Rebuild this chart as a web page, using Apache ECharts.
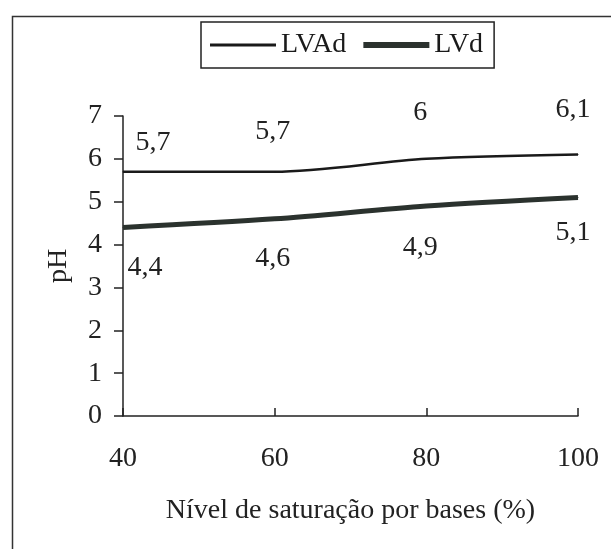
<!DOCTYPE html>
<html>
<head>
<meta charset="utf-8">
<script src="https://cdn.jsdelivr.net/npm/echarts@6/dist/echarts.min.js"></script>
<style>html,body{margin:0;padding:0;background:#fff}#c{width:611px;height:549px}</style>
</head>
<body>
<div id="c"></div>
<script>
const xValues = [40, 60, 80, 100];
const lvadValues = [5.7, 5.7, 6, 6.1];
const lvdValues = [4.4, 4.6, 4.9, 5.1];
const lvadLabels = ['5,7', '5,7', '6', '6,1'];
const lvdLabels = ['4,4', '4,6', '4,9', '5,1'];
const lvadOffsets = [[30, -29], [-2, -40], [-6, -46], [-5, -45]];
const lvdOffsets = [[22, 40], [-2, 40], [-6, 42], [-5, 35]];

const FONT = 'Liberation Serif';
const FS = 28;
const chart = echarts.init(document.getElementById('c'));

function buildData(vals, labels, offsets) {
  return vals.map((v, i) => ({
    value: [xValues[i], v],
    label: { show: true, formatter: labels[i], position: 'inside', offset: offsets[i] }
  }));
}

chart.setOption({
  animation: false,
  backgroundColor: '#fff',
  textStyle: { fontFamily: FONT },
  graphic: [{
    type: 'rect', left: 10, top: 14, silent: true,
    shape: { width: 700, height: 600 },
    style: { fill: 'none', stroke: '#333', lineWidth: 1.5 }
  }],
  legend: {
    left: 201, top: 22,
    borderColor: '#222', borderWidth: 1.5,
    padding: [9, 11, 9, 9],
    itemWidth: 66, itemHeight: 14, itemGap: 17,
    textStyle: { fontFamily: FONT, fontSize: FS, color: '#1a1a1a' },
    data: [
      { name: 'LVAd', icon: 'path://M0,0H66V3H0Z' },
      { name: 'LVd', icon: 'path://M0,0H66V6H0Z' }
    ]
  },
  grid: { left: 123, right: 33, top: 116, bottom: 133 },
  xAxis: {
    type: 'value', min: 40, max: 100, interval: 20,
    name: 'Nível de saturação por bases (%)',
    nameLocation: 'middle', nameGap: 81,
    nameTextStyle: { fontFamily: FONT, fontSize: FS, color: '#222' },
    axisLine: { lineStyle: { color: '#222', width: 1.5 } },
    axisTick: { inside: true, length: 8, lineStyle: { color: '#222', width: 1.5 } },
    axisLabel: { fontFamily: FONT, fontSize: FS, color: '#222', margin: 29 },
    splitLine: { show: false }
  },
  yAxis: {
    type: 'value', min: 0, max: 7, interval: 1,
    name: 'pH', nameLocation: 'middle', nameGap: 50,
    nameTextStyle: { fontFamily: FONT, fontSize: FS, color: '#222' },
    axisLine: { show: true, lineStyle: { color: '#222', width: 1.5 } },
    axisTick: { show: true, length: 9, lineStyle: { color: '#222', width: 1.5 } },
    axisLabel: { fontFamily: FONT, fontSize: FS, color: '#222', margin: 21 },
    splitLine: { show: false }
  },
  series: [
    {
      name: 'LVAd', type: 'line', smooth: 0.3,
      symbol: 'circle', symbolSize: 1, showSymbol: true,
      lineStyle: { color: '#1a1a1a', width: 2.5 },
      itemStyle: { color: '#1a1a1a' },
      label: { fontFamily: FONT, fontSize: FS, color: '#222' },
      data: buildData(lvadValues, lvadLabels, lvadOffsets)
    },
    {
      name: 'LVd', type: 'line', smooth: 0.3,
      symbol: 'circle', symbolSize: 1, showSymbol: true,
      lineStyle: { color: '#2b322e', width: 5 },
      itemStyle: { color: '#2b322e' },
      label: { fontFamily: FONT, fontSize: FS, color: '#222' },
      data: buildData(lvdValues, lvdLabels, lvdOffsets)
    }
  ]
});
</script>
</body>
</html>
